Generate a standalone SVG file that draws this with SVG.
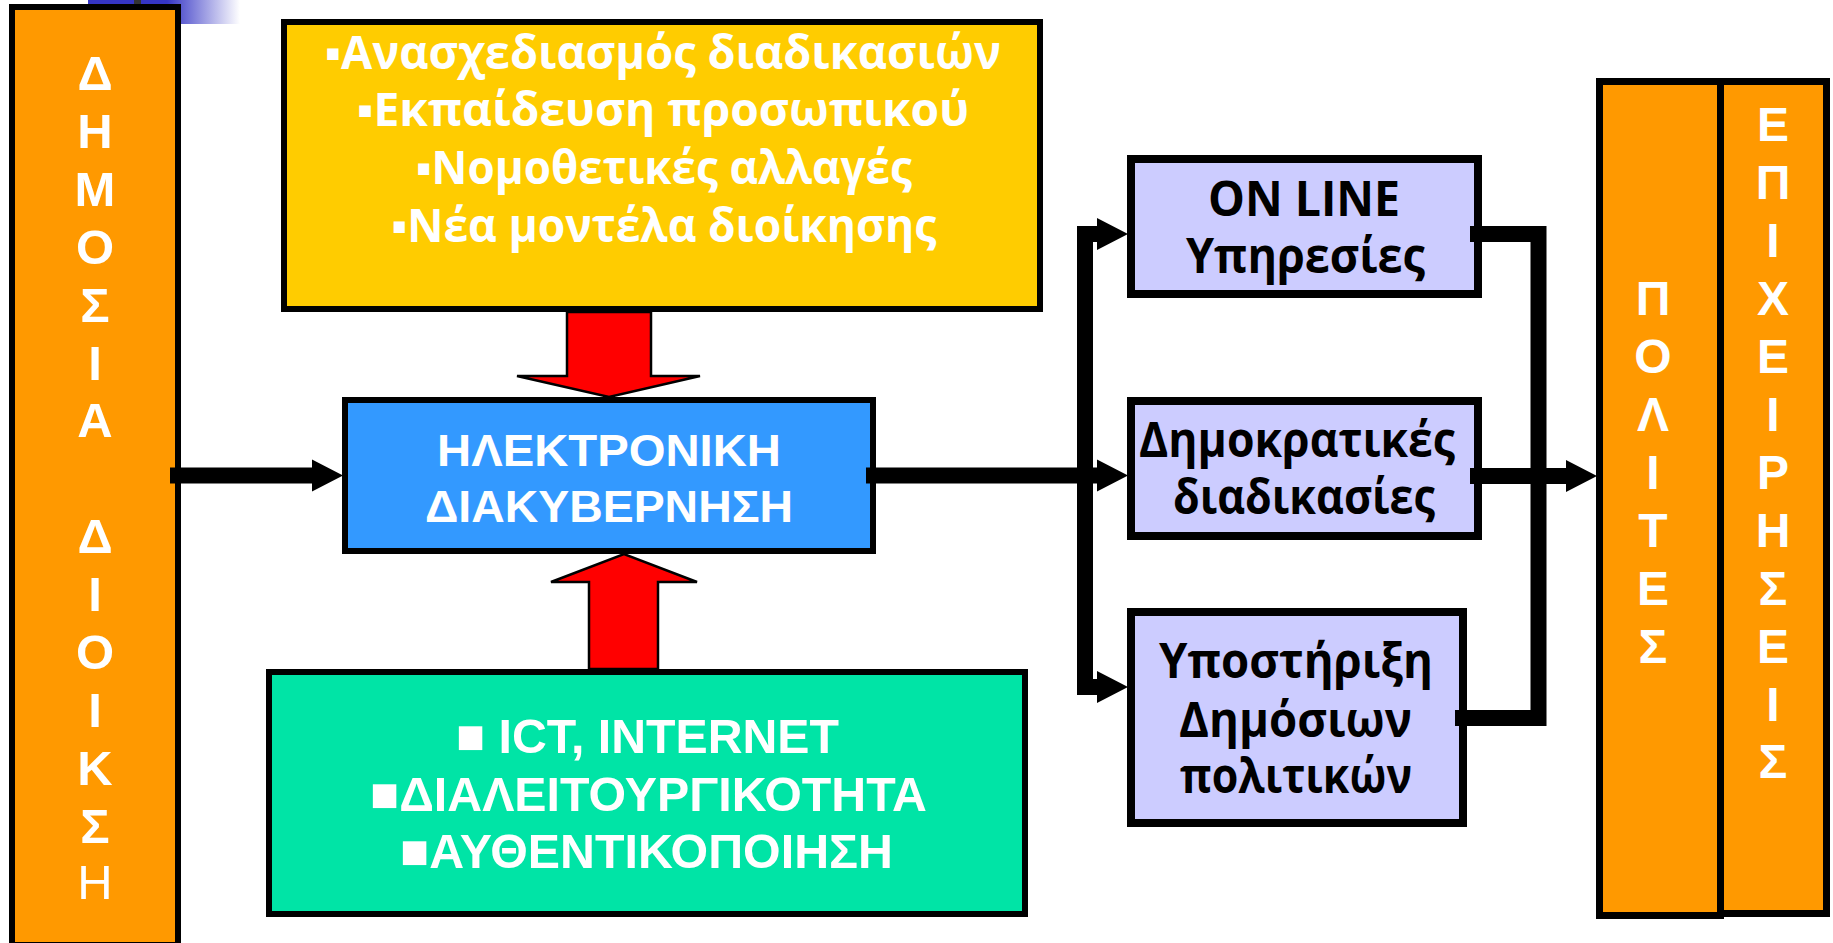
<svg xmlns="http://www.w3.org/2000/svg" width="1833" height="943" viewBox="0 0 1833 943">
<defs>
<linearGradient id="fade" x1="0" y1="0" x2="1" y2="0">
<stop offset="0" stop-color="#3535C5"/>
<stop offset="0.52" stop-color="#3535C5"/>
<stop offset="1" stop-color="#FFFFFF"/>
</linearGradient>
<marker id="head" markerUnits="userSpaceOnUse" markerWidth="31" markerHeight="32" refX="0" refY="16" orient="auto-start-reverse" overflow="visible">
<path d="M0,0 L31,16 L0,32 Z" fill="#000"/>
</marker>
<style>
.box{stroke:#000;stroke-width:6}
.orange{fill:#FF9900}
.lav{fill:#CCCCFF;stroke:#000;stroke-width:8}
.vl{font-family:"Liberation Sans",Arial,sans-serif;font-weight:bold;fill:#fff;text-anchor:middle}
.ys{font-family:"Open Sans","Liberation Sans",sans-serif;font-weight:bold;font-size:47px;fill:#fff;text-anchor:middle}
.ls{font-family:"Open Sans","Liberation Sans",sans-serif;font-weight:bold;font-size:48px;fill:#000;text-anchor:middle}
.bs{font-family:"Liberation Sans",Arial,sans-serif;font-weight:bold;font-size:44px;fill:#fff;text-anchor:middle}
.gs{font-family:"Liberation Sans",Arial,sans-serif;font-weight:bold;font-size:49px;fill:#fff;text-anchor:middle}
.wire{fill:none;stroke:#000;stroke-width:16;stroke-linejoin:miter;stroke-linecap:butt}
.big{fill:#FF0000;stroke:#000;stroke-width:2.5;stroke-linejoin:miter}
</style>
</defs>
<rect width="1833" height="943" fill="#FFFFFF"/>
<g id="decor">
<rect x="88" y="0" width="152" height="24" fill="url(#fade)"/>
<rect x="134" y="0" width="7" height="5" fill="#333333"/>
</g>
<g id="dimosia-dioikisi">
<rect class="box orange" x="12" y="7" width="166" height="938"/>
<g class="vl" font-size="49">
<text x="95" y="90">Δ</text>
<text x="95" y="148">Η</text>
<text x="95" y="206">Μ</text>
<text x="95" y="264">Ο</text>
<text x="95" y="322">Σ</text>
<text x="95" y="380">Ι</text>
<text x="95" y="437">Α</text>
<text x="95" y="553">Δ</text>
<text x="95" y="611">Ι</text>
<text x="95" y="669">Ο</text>
<text x="95" y="727">Ι</text>
<text x="95" y="785">Κ</text>
<text x="95" y="843">Σ</text>
<text x="95" y="899" font-weight="normal">Η</text>
</g>
</g>
<g id="metres">
<rect class="box" fill="#FFCC00" x="284" y="22" width="756" height="287"/>
<text class="ys" x="663" y="69" textLength="676" lengthAdjust="spacingAndGlyphs">▪Ανασχεδιασμός διαδικασιών</text>
<text class="ys" x="663" y="126" textLength="612" lengthAdjust="spacingAndGlyphs">▪Εκπαίδευση προσωπικού</text>
<text class="ys" x="664" y="184" textLength="496" lengthAdjust="spacingAndGlyphs">▪Νομοθετικές αλλαγές</text>
<text class="ys" x="664" y="242" textLength="545" lengthAdjust="spacingAndGlyphs">▪Νέα μοντέλα διοίκησης</text>
</g>
<g id="ilektroniki-diakyvernisi">
<rect class="box" fill="#3399FF" x="345" y="400" width="528" height="151"/>
<text class="bs" x="609" y="466" textLength="344" lengthAdjust="spacingAndGlyphs">ΗΛΕΚΤΡΟΝΙΚΗ</text>
<text class="bs" x="609" y="522" textLength="368" lengthAdjust="spacingAndGlyphs">ΔΙΑΚΥΒΕΡΝΗΣΗ</text>
</g>
<g id="technologia">
<rect class="box" fill="#00E4A6" x="269" y="672" width="756" height="242"/>
<text class="gs" x="647.5" y="753" textLength="383" lengthAdjust="spacingAndGlyphs">■ ICT, INTERNET</text>
<text class="gs" x="648.5" y="811" textLength="557" lengthAdjust="spacingAndGlyphs">■ΔΙΑΛΕΙΤΟΥΡΓΙΚΟΤΗΤΑ</text>
<text class="gs" x="646.5" y="868" textLength="493" lengthAdjust="spacingAndGlyphs">■ΑΥΘΕΝΤΙΚΟΠΟΙΗΣΗ</text>
</g>
<g id="online">
<rect class="lav" x="1131" y="159" width="347" height="135"/>
<text class="ls" x="1304" y="216" textLength="192" lengthAdjust="spacingAndGlyphs">ON LINE</text>
<text class="ls" x="1305.5" y="273" textLength="239" lengthAdjust="spacingAndGlyphs">Υπηρεσίες</text>
</g>
<g id="dimokratikes">
<rect class="lav" x="1131" y="401" width="347" height="135"/>
<text class="ls" x="1297" y="457" textLength="316" lengthAdjust="spacingAndGlyphs">Δημοκρατικές</text>
<text class="ls" x="1304" y="514" textLength="262" lengthAdjust="spacingAndGlyphs">διαδικασίες</text>
</g>
<g id="ypostirixi">
<rect class="lav" x="1131" y="612" width="332" height="211"/>
<text class="ls" x="1296" y="678" textLength="274" lengthAdjust="spacingAndGlyphs">Υποστήριξη</text>
<text class="ls" x="1295.5" y="737" textLength="233" lengthAdjust="spacingAndGlyphs">Δημόσιων</text>
<text class="ls" x="1296" y="793" textLength="232" lengthAdjust="spacingAndGlyphs">πολιτικών</text>
</g>
<g id="polites">
<rect class="orange" stroke="#000" stroke-width="7" x="1599.5" y="81.5" width="121" height="834"/>
<g class="vl" font-size="48">
<text x="1653" y="315">Π</text>
<text x="1653" y="373">Ο</text>
<text x="1653" y="431">Λ</text>
<text x="1653" y="489">Ι</text>
<text x="1653" y="547">Τ</text>
<text x="1653" y="605">Ε</text>
<text x="1653" y="663">Σ</text>
</g>
</g>
<g id="epicheiriseis">
<rect class="orange" stroke="#000" stroke-width="7" x="1720.5" y="81.5" width="106" height="832"/>
<g class="vl" font-size="48">
<text x="1773" y="141">Ε</text>
<text x="1773" y="199">Π</text>
<text x="1773" y="257">Ι</text>
<text x="1773" y="315">Χ</text>
<text x="1773" y="373">Ε</text>
<text x="1773" y="431">Ι</text>
<text x="1773" y="489">Ρ</text>
<text x="1773" y="547">Η</text>
<text x="1773" y="605">Σ</text>
<text x="1773" y="663">Ε</text>
<text x="1773" y="721">Ι</text>
<text x="1773" y="778">Σ</text>
</g>
</g>
<g id="connectors">
<polygon class="big" points="567,312 651,312 651,376 700,376 609,397 517,376 567,376"/>
<polygon class="big" points="589,669 658,669 658,582 697,582 624,554 551,582 589,582"/>
<path class="wire" d="M170,475.5 H312" marker-end="url(#head)"/>
<path class="wire" d="M866,475.5 H1097" marker-end="url(#head)"/>
<path class="wire" d="M1097,234 H1085 V687 H1097" marker-start="url(#head)" marker-end="url(#head)"/>
<path class="wire" d="M1470,234 H1538.5 V718 H1455"/>
<path class="wire" d="M1470,476 H1566" marker-end="url(#head)"/>
</g>
</svg>
